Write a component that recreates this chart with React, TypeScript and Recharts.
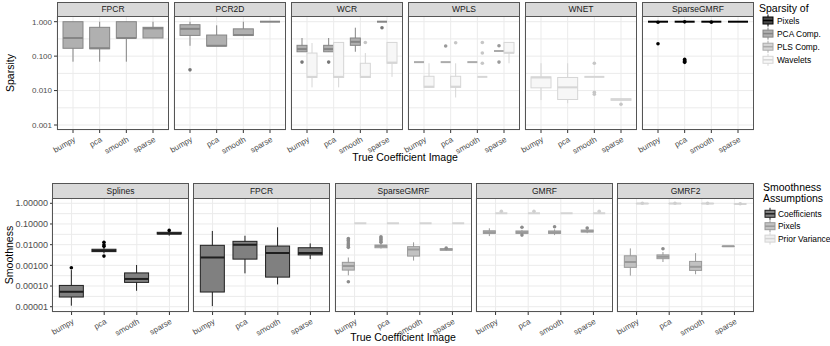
import React from "react";
import { ComposedChart, Bar, XAxis, YAxis, CartesianGrid } from "recharts";

const CATS = ["bumpy", "pca", "smooth", "sparse"];

// each row of a stats array: [min, q1, median, q3, max], in CATS order
// ---- Sparsity (top row)
const SP_FPCR_PCA = [[0.069, 0.169, 0.336, 1, 1], [0.069, 0.164, 0.17, 0.687, 1], [0.069, 0.336, 0.336, 1, 1], [0.336, 0.336, 0.64, 0.687, 1]];
const SP_FPCR_PCA_OUT = [[], [], [], []];
const SP_PCR2D_PCA = [[0.2, 0.4, 0.62, 0.818, 1], [0.197, 0.197, 0.2, 0.41, 0.785], [0.4, 0.4, 0.41, 0.62, 1], [1, 1, 1, 1, 1]];
const SP_PCR2D_PCA_OUT = [[0.04], [], [], []];
const SP_WCR_PCA = [[0.134, 0.134, 0.16, 0.206, 0.336], [0.134, 0.134, 0.16, 0.206, 0.336], [0.134, 0.206, 0.26, 0.336, 0.67], [1, 1, 1, 1, 1]];
const SP_WCR_PCA_OUT = [[0.067], [0.067], [], [0.67]];
const SP_WCR_WAV = [[0.0124, 0.024, 0.025, 0.123, 0.24], [0.0124, 0.024, 0.025, 0.25, 0.25], [0.024, 0.024, 0.025, 0.062, 0.123], [0.025, 0.062, 0.065, 0.25, 0.25]];
const SP_WCR_WAV_OUT = [[], [], [0.25], []];
const SP_WPLS_PLS = [[0.067, 0.067, 0.067, 0.067, 0.067], [0.067, 0.067, 0.067, 0.067, 0.067], [0.067, 0.067, 0.067, 0.067, 0.067], [0.141, 0.141, 0.141, 0.141, 0.141]];
const SP_WPLS_PLS_OUT = [[], [0.197], [], [0.2, 0.067]];
const SP_WPLS_WAV = [[0.0124, 0.0124, 0.013, 0.026, 0.062], [0.0063, 0.0124, 0.013, 0.026, 0.062], [0.025, 0.025, 0.025, 0.025, 0.025], [0.062, 0.123, 0.125, 0.25, 0.25]];
const SP_WPLS_WAV_OUT = [[], [0.245], [0.25, 0.123, 0.062], []];
const SP_WNET_WAV = [[0.0053, 0.012, 0.024, 0.025, 0.062], [0.0043, 0.0055, 0.0124, 0.024, 0.062], [0.025, 0.025, 0.025, 0.025, 0.025], [0.0052, 0.0052, 0.0055, 0.0058, 0.0058]];
const SP_WNET_WAV_OUT = [[], [], [0.062, 0.0089, 0.0078], [0.004]];
const SP_SGMRF_PIX = [[1, 1, 1, 1, 1], [1, 1, 1, 1, 1], [1, 1, 1, 1, 1], [1, 1, 1, 1, 1]];
const SP_SGMRF_PIX_OUT = [[0.96, 0.23], [0.99, 0.081, 0.075, 0.071, 0.066], [0.97], []];

// ---- Smoothness (bottom row)
const SM_SPL_COEF = [[0.0000112, 0.0000294, 0.0000528, 0.000107, 0.00059], [0.0038, 0.0046, 0.0051, 0.006, 0.0075], [0.000059, 0.00015, 0.00022, 0.00043, 0.00104], [0.027, 0.0327, 0.035, 0.0396, 0.045]];
const SM_SPL_COEF_OUT = [[0.00077], [0.013, 0.0099, 0.0083, 0.0028], [], [0.049]];
const SM_FPCR_COEF = [[0.0000107, 0.0000513, 0.0024, 0.0093, 0.046], [0.00041, 0.002, 0.0099, 0.0145, 0.027], [0.00012, 0.00027, 0.0039, 0.0086, 0.069], [0.002, 0.0032, 0.0039, 0.0071, 0.0115]];
const SM_FPCR_COEF_OUT = [[], [], [], []];
const SM_SGMRF_PIX = [[0.00033, 0.00059, 0.00093, 0.0014, 0.0024], [0.0065, 0.0071, 0.0085, 0.0096, 0.012], [0.0017, 0.0028, 0.0059, 0.008, 0.013], [0.005, 0.0054, 0.0059, 0.0064, 0.007]];
const SM_SGMRF_PIX_OUT = [[0.02, 0.017, 0.015, 0.012, 0.01, 0.0085, 0.0074, 0.00016], [0.024, 0.021, 0.018, 0.015, 0.013], [], [0.0068]];
const SM_SGMRF_PRIOR = [[0.11, 0.11, 0.11, 0.11, 0.11], [0.11, 0.11, 0.11, 0.11, 0.11], [0.11, 0.11, 0.11, 0.11, 0.11], [0.11, 0.11, 0.11, 0.11, 0.11]];
const SM_SGMRF_PRIOR_OUT = [[], [], [], []];
const SM_GMRF_PIX = [[0.026, 0.035, 0.04, 0.047, 0.062], [0.032, 0.035, 0.04, 0.046, 0.052], [0.029, 0.035, 0.04, 0.046, 0.055], [0.036, 0.041, 0.045, 0.051, 0.056]];
const SM_GMRF_PIX_OUT = [[], [0.069, 0.029], [0.074], [0.064]];
const SM_GMRF_PRIOR = [[0.33, 0.33, 0.33, 0.33, 0.33], [0.33, 0.33, 0.33, 0.33, 0.33], [0.33, 0.33, 0.33, 0.33, 0.33], [0.33, 0.33, 0.33, 0.33, 0.33]];
const SM_GMRF_PRIOR_OUT = [[0.41], [0.41], [], [0.41]];
const SM_GMRF2_PIX = [[0.00032, 0.0008, 0.00145, 0.0029, 0.0066], [0.00145, 0.0021, 0.0026, 0.0032, 0.0044], [0.00037, 0.00057, 0.00085, 0.00155, 0.0039], [0.008, 0.0082, 0.0083, 0.0084, 0.0086]];
const SM_GMRF2_PIX_OUT = [[], [0.0063], [], []];
const SM_GMRF2_PRIOR = [[0.95, 0.96, 0.97, 0.98, 1], [0.95, 0.96, 0.97, 0.98, 1], [0.95, 0.96, 0.97, 0.98, 1], [0.9, 0.92, 0.93, 0.94, 0.96]];
const SM_GMRF2_PRIOR_OUT = [[1], [1], [1], [0.95]];

const SP_TICKS = [0.001, 0.01, 0.1, 1];
const SP_GRID = [0.001, 0.00316, 0.01, 0.0316, 0.1, 0.316, 1];
const SM_TICKS = [0.00001, 0.0001, 0.001, 0.01, 0.1, 1];
const SM_GRID = [0.00001, 0.0000316, 0.0001, 0.000316, 0.001, 0.00316, 0.01, 0.0316, 0.1, 0.316, 1];

const SP_LEGEND = ["Pixels", "PCA Comp.", "PLS Comp.", "Wavelets"];
const SM_LEGEND = ["Coefficients", "Pixels", "Prior Variance"];

const SP_STYLE: any = {
  Pixels: { stroke: "#000000", fill: "#4a4a4a", dot: "#000000" },
  "PCA Comp.": { stroke: "#858585", fill: "#b0b0b0", dot: "#777777" },
  "PLS Comp.": { stroke: "#ababab", fill: "#d6d6d6", dot: "#9a9a9a" },
  Wavelets: { stroke: "#d6d6d6", fill: "#f7f7f7", dot: "#c6c6c6" },
};
const SM_STYLE: any = {
  Coefficients: { stroke: "#1f1f1f", fill: "#808080", dot: "#000000" },
  Pixels: { stroke: "#999999", fill: "#c2c2c2", dot: "#8c8c8c" },
  "Prior Variance": { stroke: "#d4d4d4", fill: "#f0f0f0", dot: "#cfcfcf" },
};

const SP_FACETS = [
  { title: "FPCR", groups: [{ name: "PCA Comp.", stats: SP_FPCR_PCA, out: SP_FPCR_PCA_OUT }] },
  { title: "PCR2D", groups: [{ name: "PCA Comp.", stats: SP_PCR2D_PCA, out: SP_PCR2D_PCA_OUT }] },
  { title: "WCR", groups: [{ name: "PCA Comp.", stats: SP_WCR_PCA, out: SP_WCR_PCA_OUT }, { name: "Wavelets", stats: SP_WCR_WAV, out: SP_WCR_WAV_OUT }] },
  { title: "WPLS", groups: [{ name: "PLS Comp.", stats: SP_WPLS_PLS, out: SP_WPLS_PLS_OUT }, { name: "Wavelets", stats: SP_WPLS_WAV, out: SP_WPLS_WAV_OUT }] },
  { title: "WNET", groups: [{ name: "Wavelets", stats: SP_WNET_WAV, out: SP_WNET_WAV_OUT }] },
  { title: "SparseGMRF", groups: [{ name: "Pixels", stats: SP_SGMRF_PIX, out: SP_SGMRF_PIX_OUT }] },
];
const SM_FACETS = [
  { title: "Splines", groups: [{ name: "Coefficients", stats: SM_SPL_COEF, out: SM_SPL_COEF_OUT }] },
  { title: "FPCR", groups: [{ name: "Coefficients", stats: SM_FPCR_COEF, out: SM_FPCR_COEF_OUT }] },
  { title: "SparseGMRF", groups: [{ name: "Pixels", stats: SM_SGMRF_PIX, out: SM_SGMRF_PIX_OUT }, { name: "Prior Variance", stats: SM_SGMRF_PRIOR, out: SM_SGMRF_PRIOR_OUT }] },
  { title: "GMRF", groups: [{ name: "Pixels", stats: SM_GMRF_PIX, out: SM_GMRF_PIX_OUT }, { name: "Prior Variance", stats: SM_GMRF_PRIOR, out: SM_GMRF_PRIOR_OUT }] },
  { title: "GMRF2", groups: [{ name: "Pixels", stats: SM_GMRF2_PIX, out: SM_GMRF2_PIX_OUT }, { name: "Prior Variance", stats: SM_GMRF2_PRIOR, out: SM_GMRF2_PRIOR_OUT }] },
];

const FONT = "'Liberation Sans', Arial, sans-serif";
const SPARE = 26; // room left of each panel so rotated labels are not clipped

const XTick = (p: any) => {
  const x = p.x + 3;
  const y = p.y + 6;
  return (
    <text x={x} y={y} textAnchor="end" fontSize={8} fill="#4d4d4d" transform={`rotate(-30 ${x} ${y})`}>
      {p.payload.value}
    </text>
  );
};

function Facet(props: any) {
  const { title, groups, left, top, width, plotH, stripH, domain, ticks, grid, yW, fmt, styles, yFont, ySize } = props;
  const rows = CATS.map((c, i) => {
    const r: any = { cat: c };
    groups.forEach((g: any, gi: number) => {
      r["s" + gi] = g.stats[i];
      r["o" + gi] = g.out[i];
    });
    return r;
  });
  const nOut = Math.max(0, ...groups.map((g: any) => Math.max(...g.out.map((o: number[]) => o.length))));
  const pad = (width / 4.2) * 0.1;
  const axisIds = ["wk", "bx", "md"];
  for (let k = 0; k < nOut; k++) axisIds.push("o" + k);
  const spare = yW ? 0 : SPARE;

  return (
    <>
      <div style={{ position: "absolute", left: left - yW - spare, top }}>
        <ComposedChart width={width + yW + spare} height={plotH + 40} data={rows} margin={{ top: 0, right: 0, bottom: 0, left: spare }} barCategoryGap="12.5%" barGap={0}>
          {axisIds.map((id) => (
            <XAxis key={id} xAxisId={id} dataKey="cat" type="category" padding={{ left: pad, right: pad }} hide={id !== "bx"} height={40} tickSize={3} tickLine={{ stroke: "#333" }} axisLine={false} interval={0} tick={<XTick />} />
          ))}
          <YAxis yAxisId="grid" hide scale="log" type="number" domain={domain} allowDataOverflow ticks={grid} interval={0} />
          <YAxis scale="log" type="number" domain={domain} allowDataOverflow ticks={ticks} interval={0} hide={!yW} width={yW} tickFormatter={fmt} tick={{ fontSize: yFont, fill: "#4d4d4d" }} tickSize={ySize} tickMargin={2} tickLine={{ stroke: "#333" }} axisLine={false} />
          <CartesianGrid xAxisId="bx" yAxisId="grid" stroke="#ebebeb" strokeWidth={1} />
          {groups.map((g: any, gi: number) => {
            const st = styles[g.name];
            const s = (d: any) => d["s" + gi];
            return (
              <React.Fragment key={"g" + gi}>
                <Bar xAxisId="wk" dataKey={(d: any) => [s(d)[0], s(d)[4]]} isAnimationActive={false}
                  shape={(p: any) => <line x1={p.x + p.width / 2} x2={p.x + p.width / 2} y1={p.y} y2={p.y + p.height} stroke={st.stroke} strokeWidth={1} />} />
                <Bar xAxisId="bx" dataKey={(d: any) => [s(d)[1], s(d)[3]]} isAnimationActive={false}
                  shape={(p: any) => <rect x={p.x} y={p.y} width={p.width} height={Math.max(p.height, 0)} fill={st.fill} stroke={st.stroke} strokeWidth={1} />} />
                <Bar xAxisId="md" dataKey={(d: any) => [s(d)[2], s(d)[2]]} isAnimationActive={false}
                  shape={(p: any) => <line x1={p.x} x2={p.x + p.width} y1={p.y} y2={p.y} stroke={st.stroke} strokeWidth={2} />} />
                {axisIds.slice(3).map((id, k) => (
                  <Bar key={id} xAxisId={id} isAnimationActive={false}
                    dataKey={(d: any) => (d["o" + gi][k] != null ? [d["o" + gi][k], d["o" + gi][k]] : null)}
                    shape={(p: any) => <circle cx={p.x + p.width / 2} cy={p.y} r={1.8} fill={st.dot} />} />
                ))}
              </React.Fragment>
            );
          })}
        </ComposedChart>
      </div>
      <div style={{ position: "absolute", left, top, width, height: plotH, border: "1px solid #555", boxSizing: "border-box", pointerEvents: "none" }} />
      <div style={{ position: "absolute", left, top: top - stripH, width, height: stripH + 1, background: "#d9d9d9", border: "1px solid #555", boxSizing: "border-box", fontSize: 8.5, color: "#1a1a1a", textAlign: "center", lineHeight: `${stripH - 1}px` }}>
        {title}
      </div>
    </>
  );
}

const LegendKey = ({ x, cy, st }: any) => (
  <g>
    <line x1={x + 5} x2={x + 5} y1={cy - 6} y2={cy + 6} stroke={st.stroke} />
    <rect x={x} y={cy - 3.5} width={10} height={7} fill={st.fill} stroke={st.stroke} />
    <line x1={x} x2={x + 10} y1={cy} y2={cy} stroke={st.stroke} strokeWidth={1.5} />
  </g>
);

export default function App() {
  const spLeft = [57, 174, 291, 408, 525, 642];
  const smLeft = [52, 193, 335, 476, 617];
  return (
    <div style={{ position: "absolute", left: 0, top: 0, width: 830, height: 346, background: "#fff", fontFamily: FONT, overflow: "hidden" }}>
      {SP_FACETS.map((f, i) => (
        <Facet key={"sp" + i} {...f} left={spLeft[i]} top={16} width={112} plotH={114} stripH={14}
          domain={[0.000716, 1.464]} ticks={SP_TICKS} grid={SP_GRID} yW={i === 0 ? 57 : 0} yFont={8} ySize={3}
          fmt={(v: number) => v.toFixed(3)} styles={SP_STYLE} />
      ))}
      {SM_FACETS.map((f, i) => (
        <Facet key={"sm" + i} {...f} left={smLeft[i]} top={198} width={137} plotH={114} stripH={15}
          domain={[0.00000555, 1.804]} ticks={SM_TICKS} grid={SM_GRID} yW={i === 0 ? 52 : 0} yFont={9} ySize={2}
          fmt={(v: number) => v.toFixed(5)} styles={SM_STYLE} />
      ))}
      <svg width={830} height={346} style={{ position: "absolute", left: 0, top: 0, pointerEvents: "none" }} fontFamily={FONT}>
        <text transform="translate(14 73) rotate(-90)" textAnchor="middle" fontSize={10.5}>Sparsity</text>
        <text transform="translate(13 255) rotate(-90)" textAnchor="middle" fontSize={10.5}>Smoothness</text>
        <text x={405} y={161} textAnchor="middle" fontSize={10.5}>True Coefficient Image</text>
        <text x={403} y={341} textAnchor="middle" fontSize={10.5}>True Coefficient Image</text>
        <text x={759} y={12} fontSize={10.5}>Sparsity of</text>
        {SP_LEGEND.map((n, i) => (
          <g key={n}>
            <LegendKey x={763} cy={20.5 + 13.1 * i} st={SP_STYLE[n]} />
            <text x={777} y={23.5 + 13.1 * i} fontSize={8.4}>{n}</text>
          </g>
        ))}
        <text x={763} y={191} fontSize={10.5}>Smoothness</text>
        <text x={763} y={202} fontSize={10.5}>Assumptions</text>
        {SM_LEGEND.map((n, i) => (
          <g key={n}>
            <LegendKey x={765} cy={213.8 + 12.4 * i} st={SM_STYLE[n]} />
            <text x={778} y={216.8 + 12.4 * i} fontSize={8.4}>{n}</text>
          </g>
        ))}
      </svg>
    </div>
  );
}
